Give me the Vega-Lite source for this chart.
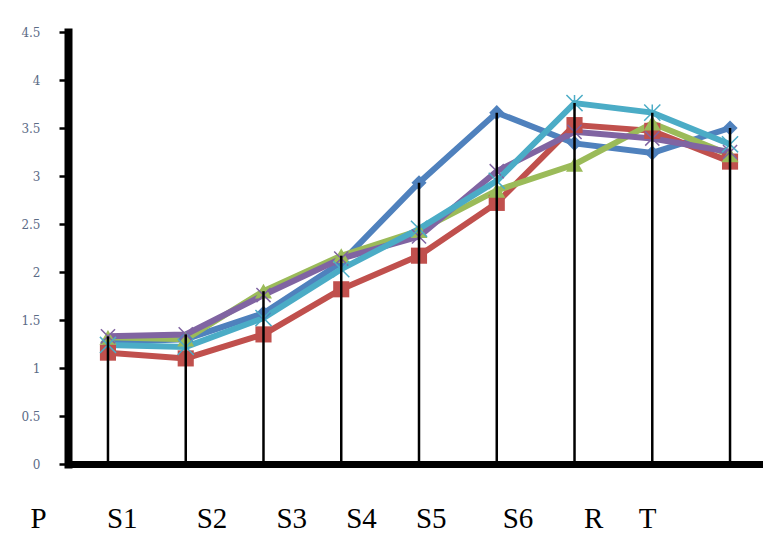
{
  "$schema": "https://vega.github.io/schema/vega-lite/v6.json",
  "autosize": "none",
  "padding": {"left": 68, "top": 32, "right": 0, "bottom": 74},
  "width": 702,
  "height": 432,
  "background": "white",
  "config": {"view": {"stroke": null}},
  "data": {
    "values": [
      {"stage": "P", "series": "Series1", "value": 1.27},
      {"stage": "S1", "series": "Series1", "value": 1.3},
      {"stage": "S2", "series": "Series1", "value": 1.57},
      {"stage": "S3", "series": "Series1", "value": 2.1},
      {"stage": "S4", "series": "Series1", "value": 2.93},
      {"stage": "S5", "series": "Series1", "value": 3.66},
      {"stage": "S6", "series": "Series1", "value": 3.34},
      {"stage": "R", "series": "Series1", "value": 3.24},
      {"stage": "T", "series": "Series1", "value": 3.5},
      {"stage": "P", "series": "Series2", "value": 1.16},
      {"stage": "S1", "series": "Series2", "value": 1.1},
      {"stage": "S2", "series": "Series2", "value": 1.35},
      {"stage": "S3", "series": "Series2", "value": 1.82},
      {"stage": "S4", "series": "Series2", "value": 2.17},
      {"stage": "S5", "series": "Series2", "value": 2.72},
      {"stage": "S6", "series": "Series2", "value": 3.53},
      {"stage": "R", "series": "Series2", "value": 3.47},
      {"stage": "T", "series": "Series2", "value": 3.15},
      {"stage": "P", "series": "Series3", "value": 1.32},
      {"stage": "S1", "series": "Series3", "value": 1.3},
      {"stage": "S2", "series": "Series3", "value": 1.8},
      {"stage": "S3", "series": "Series3", "value": 2.17},
      {"stage": "S4", "series": "Series3", "value": 2.43},
      {"stage": "S5", "series": "Series3", "value": 2.85},
      {"stage": "S6", "series": "Series3", "value": 3.12},
      {"stage": "R", "series": "Series3", "value": 3.55},
      {"stage": "T", "series": "Series3", "value": 3.22},
      {"stage": "P", "series": "Series4", "value": 1.33},
      {"stage": "S1", "series": "Series4", "value": 1.35},
      {"stage": "S2", "series": "Series4", "value": 1.76},
      {"stage": "S3", "series": "Series4", "value": 2.14},
      {"stage": "S4", "series": "Series4", "value": 2.37},
      {"stage": "S5", "series": "Series4", "value": 3.05},
      {"stage": "S6", "series": "Series4", "value": 3.46},
      {"stage": "R", "series": "Series4", "value": 3.39},
      {"stage": "T", "series": "Series4", "value": 3.25},
      {"stage": "P", "series": "Series5", "value": 1.24},
      {"stage": "S1", "series": "Series5", "value": 1.22},
      {"stage": "S2", "series": "Series5", "value": 1.52},
      {"stage": "S3", "series": "Series5", "value": 2.03},
      {"stage": "S4", "series": "Series5", "value": 2.45},
      {"stage": "S5", "series": "Series5", "value": 2.95},
      {"stage": "S6", "series": "Series5", "value": 3.76},
      {"stage": "R", "series": "Series5", "value": 3.66},
      {"stage": "T", "series": "Series5", "value": 3.33}
    ]
  },
  "encoding": {
    "x": {
      "field": "stage",
      "type": "nominal",
      "sort": ["P", "S1", "S2", "S3", "S4", "S5", "S6", "R", "T"],
      "scale": {"type": "point", "padding": 0.514},
      "axis": {
        "title": null,
        "ticks": false,
        "tickSize": 0,
        "grid": false,
        "domainWidth": 7,
        "domainColor": "black",
        "domainCap": "square",
        "labelFont": "Liberation Serif",
        "labelFontSize": 29,
        "labelColor": "black",
        "labelPadding": 40,
        "labelAngle": 0,
        "labelOffset": {
          "condition": [
            {"test": "datum.value === 'P'", "value": -70},
            {"test": "datum.value === 'S1'", "value": -64},
            {"test": "datum.value === 'S2'", "value": -52},
            {"test": "datum.value === 'S3'", "value": -50},
            {"test": "datum.value === 'S4'", "value": -58},
            {"test": "datum.value === 'S5'", "value": -66},
            {"test": "datum.value === 'S6'", "value": -57},
            {"test": "datum.value === 'R'", "value": -59}
          ],
          "value": -83
        }
      }
    }
  },
  "layer": [
    {
      "mark": {"type": "line", "strokeWidth": 6},
      "encoding": {
        "y": {
          "field": "value",
          "type": "quantitative",
          "scale": {"domain": [0, 4.5], "nice": false},
          "axis": {
            "title": null,
            "values": [0, 0.5, 1, 1.5, 2, 2.5, 3, 3.5, 4, 4.5],
            "format": "~g",
            "grid": false,
            "domainWidth": 8,
            "domainColor": "black",
            "domainCap": "square",
            "tickColor": "black",
            "tickWidth": 2.5,
            "tickSize": 9,
            "labelFont": "DejaVu Serif",
            "labelFontSize": 12,
            "labelColor": "#5b6b86",
            "labelPadding": 19
          }
        },
        "color": {
          "field": "series",
          "type": "nominal",
          "scale": {
            "domain": ["Series1", "Series2", "Series3", "Series4", "Series5"],
            "range": ["#4f81bd", "#c0504d", "#9bbb59", "#8064a2", "#4bacc6"]
          },
          "legend": null
        }
      }
    },
    {
      "transform": [{"filter": {"field": "series", "oneOf": ["Series1", "Series2", "Series3"]}}],
      "mark": {"type": "point", "filled": true, "opacity": 1},
      "encoding": {
        "y": {"field": "value", "type": "quantitative"},
        "color": {"field": "series", "type": "nominal", "legend": null},
        "shape": {
          "field": "series",
          "type": "nominal",
          "scale": {"domain": ["Series1", "Series2", "Series3"], "range": ["diamond", "square", "triangle-up"]},
          "legend": null
        },
        "size": {
          "field": "series",
          "type": "nominal",
          "scale": {"domain": ["Series1", "Series2", "Series3"], "range": [230, 290, 110]},
          "legend": null
        }
      }
    },
    {
      "transform": [{"filter": {"field": "series", "oneOf": ["Series4", "Series5"]}}],
      "mark": {"type": "point", "filled": false, "opacity": 1, "strokeWidth": 1.5},
      "encoding": {
        "y": {"field": "value", "type": "quantitative"},
        "color": {"field": "series", "type": "nominal", "legend": null},
        "shape": {
          "field": "series",
          "type": "nominal",
          "scale": {"domain": ["Series4", "Series5"], "range": ["M-1,-1L1,1M1,-1L-1,1", "M-1,-1L1,1M1,-1L-1,1M0,-1L0,1"]},
          "legend": null
        },
        "size": {
          "field": "series",
          "type": "nominal",
          "scale": {"domain": ["Series4", "Series5"], "range": [200, 260]},
          "legend": null
        }
      }
    },
    {
      "mark": {"type": "rule", "color": "black", "strokeWidth": 2.5},
      "encoding": {
        "y": {"aggregate": "max", "field": "value", "type": "quantitative"},
        "y2": {"datum": 0}
      }
    }
  ],
  "resolve": {"scale": {"shape": "independent", "size": "independent"}}
}
